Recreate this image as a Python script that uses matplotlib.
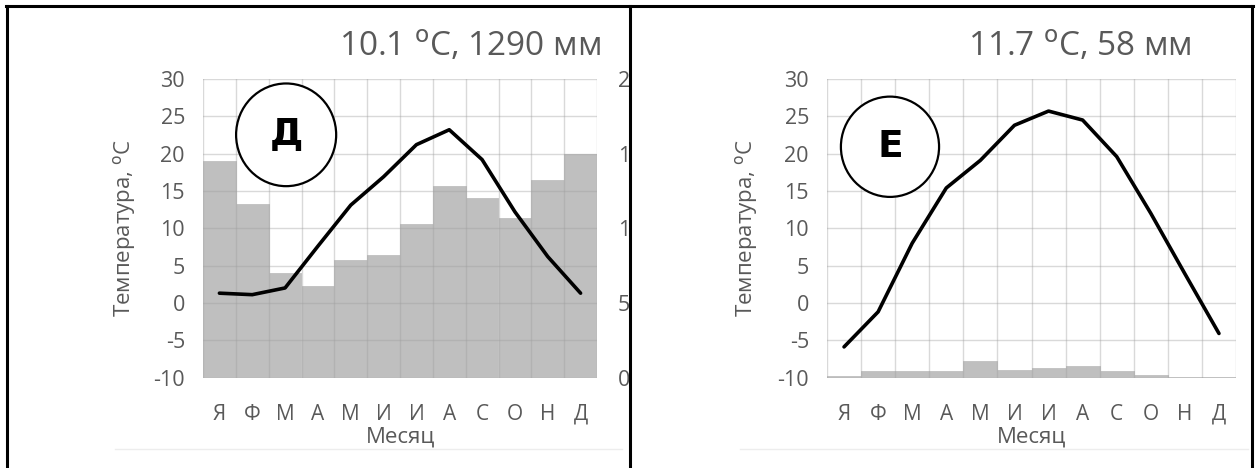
import matplotlib
matplotlib.use("Agg")
import matplotlib.pyplot as plt
from matplotlib.patches import Ellipse, Rectangle
from matplotlib.lines import Line2D

plt.rcParams['font.family'] = ['Open Sans', 'DejaVu Sans']
plt.rcParams['axes.unicode_minus'] = False

months = ['Я', 'Ф', 'М', 'А', 'М', 'И', 'И', 'А', 'С', 'О', 'Н', 'Д']

# Д: temperature (°C) and precipitation (mm)
temp_d = [1.3, 1.1, 2.0, 7.6, 13.1, 16.9, 21.2, 23.2, 19.2, 12.2, 6.2, 1.3]
prec_d = [145, 116, 70, 61, 79, 82, 103, 128, 120, 107, 132, 150]

# Е: temperature (°C) and precipitation (mm)
temp_e = [-5.9, -1.2, 8.0, 15.4, 19.1, 23.8, 25.7, 24.5, 19.6, 12.0, 3.9, -4.1]
prec_e = [1, 4.5, 4.5, 4.5, 11, 5, 6.5, 7.5, 4.5, 1.5, 0.5, 0.5]

title_d = '10.1 $^{\\mathrm{o}}$C, 1290 мм'
title_e = '11.7 $^{\\mathrm{o}}$C, 58 мм'

GRAY_TXT = '#595959'


def panel(fig, rect, temps, precs, title, letter, circ, title_x, show_right):
    ax = fig.add_axes(rect)
    ax2 = ax.twinx()
    x = list(range(len(months)))
    # bars on the precipitation axis, behind the temperature axis
    ax2.bar(x, precs, width=1.0, color='#bfbfbf', edgecolor='#bfbfbf', lw=0.6, zorder=1)
    ax2.set_ylim(0, 200)
    ax2.set_yticks([0, 50, 100, 150, 200])
    ax2.tick_params(length=0, pad=15, labelsize=15.5, labelcolor=GRAY_TXT)
    if not show_right:
        ax2.set_yticklabels([])
    ax2.set_zorder(0)
    ax.set_zorder(1)
    ax.patch.set_visible(False)

    # grid drawn over the bars
    for v in range(-10, 31, 5):
        ax.axhline(v, color='#a0a0a0', alpha=0.4, lw=1, zorder=1)
    for b in range(len(months) + 1):
        ax.axvline(b - 0.5, color='#a0a0a0', alpha=0.4, lw=1, zorder=1)

    ax.plot(x, temps, color='black', lw=2.6, zorder=3, solid_capstyle='round')
    ax.set_xlim(-0.5, 11.5)
    ax.set_ylim(-10, 30)
    ax.set_yticks(range(-10, 31, 5))
    ax.set_xticks(x)
    ax.set_xticklabels(months)
    ax.tick_params(axis='y', length=0, pad=13, labelsize=15.5, labelcolor=GRAY_TXT)
    ax.tick_params(axis='x', length=0, pad=19, labelsize=15, labelcolor=GRAY_TXT)
    for a in (ax, ax2):
        for s in a.spines.values():
            s.set_visible(False)
    ax.set_ylabel('Температура, $^{\\mathrm{o}}$C', fontsize=16, color=GRAY_TXT)
    ax.yaxis.set_label_coords(-0.165, 0.5)
    ax.set_xlabel('Месяц', fontsize=16, color=GRAY_TXT, labelpad=1)
    ax.text(title_x, 1.107, title, transform=ax.transAxes, ha='center', va='center',
            fontsize=24, color=GRAY_TXT)

    cx, cy, w, h = circ
    ax.add_patch(Ellipse((cx, cy), w, h, transform=ax.transAxes, fill=True,
                         facecolor='white', edgecolor='black', lw=1.6, zorder=4))
    ax.text(cx, cy, letter, transform=ax.transAxes, ha='center', va='center',
            fontsize=27, fontweight='heavy', family='DejaVu Sans', zorder=5)
    return ax


fig = plt.figure(figsize=(12.57, 4.68), dpi=100)
W, H = 1257, 468

panel(fig, [203 / W, (H - 377.5) / H, 394 / W, 298.5 / H], temp_d, prec_d, title_d, 'Д',
      (0.211, 0.813, 0.254, 0.344), 0.678, True)
panel(fig, [827 / W, (H - 377.5) / H, 409 / W, 298.5 / H], temp_e, prec_e, title_e, 'Е',
      (0.154, 0.773, 0.24, 0.336), 0.618, False)

# clip the right-axis labels of the left chart at the divider
fig.add_artist(Rectangle((631 / W, 0.05), 60 / W, 0.85, transform=fig.transFigure,
                         facecolor='white', edgecolor='none', zorder=5))

# faint chart-area bottom lines
fig.add_artist(Line2D([115 / W, 622 / W], [1 - 449 / H] * 2, transform=fig.transFigure,
                      color='#ededed', lw=1, zorder=5))
fig.add_artist(Line2D([740 / W, 1248 / W], [1 - 449 / H] * 2, transform=fig.transFigure,
                      color='#ededed', lw=1, zorder=5))

# black frame
frame = dict(transform=fig.transFigure, color='black', lw=2.2, zorder=6)
fig.add_artist(Line2D([6 / W, 1253 / W], [1 - 6 / H] * 2, **frame))
for xp in (7, 630, 1252):
    fig.add_artist(Line2D([xp / W] * 2, [0, 1 - 6 / H], **frame))

fig.savefig('out.png', dpi=100)
